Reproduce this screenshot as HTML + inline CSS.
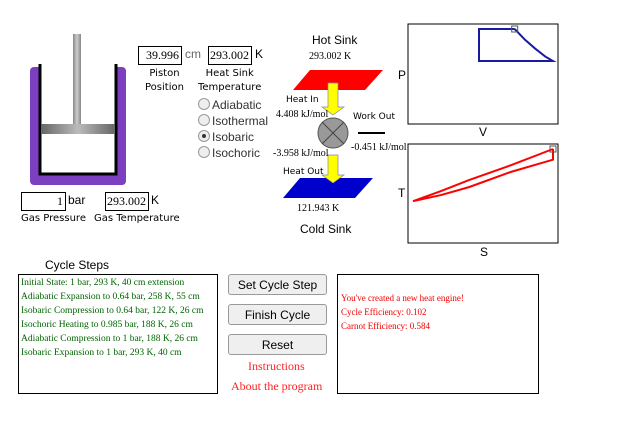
<!DOCTYPE html>
<html><head><meta charset="utf-8">
<style>
body{margin:0;width:625px;height:425px;background:#fff;position:relative;overflow:hidden;font-family:"DejaVu Sans","Liberation Sans",sans-serif;}
.a{position:absolute;}
.box{position:absolute;border:1px solid #000;background:#fff;font-family:"Liberation Serif",serif;font-size:12px;text-align:right;padding-right:2px;box-sizing:border-box;height:19px;line-height:17px;}
.lbl{position:absolute;font-size:10px;color:#000;white-space:nowrap;}
.ser{font-family:"Liberation Serif",serif;font-size:10px;}
.rad{position:absolute;font-family:"Liberation Sans",sans-serif;font-size:12px;color:#333;}
.rad i{display:inline-block;width:10px;height:10px;border:1px solid #999;border-radius:50%;background:#eee;vertical-align:-1px;margin-right:2px;position:relative;}
.btn{position:absolute;left:228px;width:99px;height:21px;border:1px solid #999;border-radius:3px;background:#efefef;font-family:"Liberation Sans",sans-serif;font-size:12px;text-align:center;line-height:20px;box-sizing:border-box;}
.step{font-family:"Liberation Serif",serif;font-size:9.5px;color:#006400;line-height:14px;white-space:nowrap;}
</style></head><body>
<svg class="a" style="left:0;top:0" width="200" height="190">
<rect x="30" y="67" width="96" height="118" rx="4" fill="#7b3fc0"/>
<rect x="40" y="64" width="76" height="111" fill="#fff"/>
<path d="M40 64 V174 H116 V64" fill="none" stroke="#000" stroke-width="3"/>
<defs><linearGradient id="rg" x1="0" x2="1"><stop offset="0" stop-color="#888"/><stop offset=".5" stop-color="#ccc"/><stop offset="1" stop-color="#888"/></linearGradient>
<linearGradient id="hg" x1="0" x2="1"><stop offset="0" stop-color="#666"/><stop offset=".5" stop-color="#bbb"/><stop offset="1" stop-color="#666"/></linearGradient></defs>
<rect x="73" y="34" width="8" height="90" fill="url(#rg)"/>
<rect x="41" y="124" width="74" height="10" fill="url(#hg)"/>
</svg>
<div class="box" style="left:138px;top:46px;width:44px">39.996</div>
<div class="a" style="left:185px;top:47px;font-size:12px;color:#666;font-family:'Liberation Sans',sans-serif">cm</div>
<div class="box" style="left:208px;top:46px;width:44px">293.002</div>
<div class="a" style="left:255px;top:47px;font-size:12px;font-family:'Liberation Sans',sans-serif">K</div>
<div class="lbl" style="left:145px;top:67px;text-align:center;line-height:14px">Piston<br>Position</div>
<div class="lbl" style="left:198px;top:67px;text-align:center;line-height:14px">Heat Sink<br>Temperature</div>
<div class="rad" style="left:198px;top:98px"><i></i>Adiabatic</div>
<div class="rad" style="left:198px;top:114px"><i></i>Isothermal</div>
<div class="rad" style="left:198px;top:130px"><i style="background:#eee"><b style="position:absolute;left:3px;top:3px;width:4px;height:4px;border-radius:50%;background:#333"></b></i>Isobaric</div>
<div class="rad" style="left:198px;top:146px"><i></i>Isochoric</div>
<div class="box" style="left:21px;top:192px;width:45px">1</div>
<div class="a" style="left:68px;top:193px;font-size:12px;font-family:'Liberation Sans',sans-serif">bar</div>
<div class="box" style="left:105px;top:192px;width:44px">293.002</div>
<div class="a" style="left:151px;top:193px;font-size:12px;font-family:'Liberation Sans',sans-serif">K</div>
<div class="lbl" style="left:21px;top:213px">Gas Pressure</div>
<div class="lbl" style="left:94px;top:213px">Gas Temperature</div>
<div class="a" style="left:312px;top:33px;font-size:12px;font-family:'Liberation Sans',sans-serif">Hot Sink</div>
<div class="a ser" style="left:309px;top:51px">293.002 K</div>
<svg class="a" style="left:270px;top:60px" width="130" height="145">
<polygon points="40,10 113,10 95,30 23,30" fill="#f00"/>
<polygon points="30,118 103,118 85,138 13,138" fill="#00c"/>
<polygon points="58,23 68,23 68,47 74,47 63,55 52,47 58,47" fill="#ff0" stroke="#888" stroke-width=".7"/>
<polygon points="58,95 68,95 68,115 74,115 63,123 52,115 58,115" fill="#ff0" stroke="#888" stroke-width=".7"/>
<circle cx="63" cy="73" r="15" fill="#999" stroke="#555"/>
<path d="M52 62 L74 84 M74 62 L52 84" stroke="#444"/>
<path d="M88 73 H115" stroke="#000" stroke-width="2"/>
</svg>
<div class="lbl" style="left:286px;top:95px;font-size:9px">Heat In</div>
<div class="a ser" style="left:276px;top:109px">4.408 kJ/mol</div>
<div class="lbl" style="left:353px;top:112px;font-size:9px">Work Out</div>
<div class="a ser" style="left:351px;top:142px">-0.451 kJ/mol</div>
<div class="a ser" style="left:273px;top:148px">-3.958 kJ/mol</div>
<div class="lbl" style="left:283px;top:167px;font-size:9px">Heat Out</div>
<div class="a ser" style="left:297px;top:203px">121.943 K</div>
<div class="a" style="left:300px;top:222px;font-size:12px;font-family:'Liberation Sans',sans-serif">Cold Sink</div>
<svg id="ch" class="a" style="left:0;top:0" width="625" height="260">
<rect x="408" y="24" width="150" height="100" fill="none" stroke="#000"/>
<rect x="408" y="144" width="150" height="99" fill="none" stroke="#000"/>
<text x="398" y="79" font-size="12" font-family="Liberation Sans">P</text>
<text x="479" y="136" font-size="12" font-family="Liberation Sans">V</text>
<text x="398" y="197" font-size="12" font-family="Liberation Sans">T</text>
<text x="480" y="256" font-size="12" font-family="Liberation Sans">S</text>
</svg>
<script>
const pvVolume=[40,44,48,52,55,26,26,26,40];
const pvPressure=[1,0.88,0.78,0.69,0.64,0.64,0.985,1,1];
const tsEntropy=[10,10,7,4,2,0,2,4,4,7,10];
const tsTemp=[293,258,218,168,142,122,155,191,191,240,293];
const NS='http://www.w3.org/2000/svg';
const vx=v=>479+(v-26)*2.55, py=p=>29+(1-p)*88.9;
const sx=s=>413+s*14, ty=t=>149+(293-t)*0.305;
const svg=document.getElementById('ch');
function poly(xs,ys,col,name){
 const p=document.createElementNS(NS,'polyline');
 p.setAttribute('points',xs.map((x,i)=>x+','+ys[i]).join(' '));
 p.setAttribute('fill','none');p.setAttribute('stroke',col);p.setAttribute('stroke-width','2');
 
 
 svg.appendChild(p);
}
poly(pvVolume.map(vx),pvPressure.map(py),'#1a1aa0','pv-cycle-line');
poly(tsEntropy.map(sx),tsTemp.map(ty),'#f00','ts-cycle-line');
function mark(x,y,name){
 const r=document.createElementNS(NS,'rect');
 r.setAttribute('x',x-3);r.setAttribute('y',y-3);r.setAttribute('width',6);r.setAttribute('height',6);
 r.setAttribute('fill','none');r.setAttribute('stroke','#555');
 
 
 svg.appendChild(r);
}
mark(vx(pvVolume[0]),py(pvPressure[0]),'pv-current-state-marker');
mark(sx(tsEntropy[0]),ty(tsTemp[0]),'ts-current-state-marker');
</script>
<div class="a" style="left:45px;top:258px;font-size:12px;font-family:'Liberation Sans',sans-serif">Cycle Steps</div>
<div class="a" style="left:18px;top:274px;width:200px;height:120px;border:1px solid #000;box-sizing:border-box;padding:1px 2px">
<div class="step">Initial State: 1 bar, 293 K, 40 cm extension</div>
<div class="step">Adiabatic Expansion to 0.64 bar, 258 K, 55 cm</div>
<div class="step">Isobaric Compression to 0.64 bar, 122 K, 26 cm</div>
<div class="step">Isochoric Heating to 0.985 bar, 188 K, 26 cm</div>
<div class="step">Adiabatic Compression to 1 bar, 188 K, 26 cm</div>
<div class="step">Isobaric Expansion to 1 bar, 293 K, 40 cm</div>
</div>
<div class="btn" style="top:274px">Set Cycle Step</div>
<div class="btn" style="top:304px">Finish Cycle</div>
<div class="btn" style="top:334px">Reset</div>
<div class="a" style="left:248px;top:359px;font-family:'Liberation Serif',serif;font-size:12px;color:#f22">Instructions</div>
<div class="a" style="left:231px;top:379px;font-family:'Liberation Serif',serif;font-size:12px;color:#f22">About the program</div>
<div class="a" style="left:337px;top:274px;width:202px;height:120px;border:1px solid #000;box-sizing:border-box;padding:16px 3px;font-family:'Liberation Serif',serif;font-size:9px;color:#e00;line-height:14px">You've created a new heat engine!<br>Cycle Efficiency: 0.102<br>Carnot Efficiency: 0.584</div>
</body></html>
